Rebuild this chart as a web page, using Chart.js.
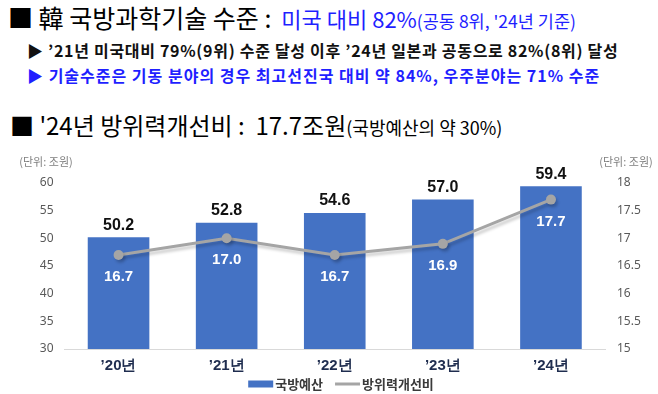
<!DOCTYPE html>
<html>
<head>
<meta charset="utf-8">
<script src="https://cdn.jsdelivr.net/npm/chart.js@4/dist/chart.umd.min.js"></script>
<style>
  body { margin: 0; background: #fff; width: 658px; height: 394px; overflow: hidden; position: relative; font-family: "Noto Sans CJK KR", sans-serif; }
  .ln { position: absolute; left: 0; white-space: nowrap; }
  .blue { color: #1f1fff; }
  #l1 { top: 2px; left: 8px; font-size: 25px; line-height: 30px; }
  #l1 .mid { font-size: 22px; margin-left: 10px; }
  #l1 .sm { font-size: 17.5px; }
  #l2 { top: 40px; left: 27px; font-size: 16px; line-height: 20px; font-weight: bold; letter-spacing: 0.7px; color: #111; }
  #l3 { top: 65px; left: 27px; font-size: 16px; line-height: 20px; font-weight: bold; letter-spacing: 1px; color: #1f1fff; }
  #l4 { top: 110px; left: 10px; font-size: 24px; line-height: 30px; }
  #l4 .sm { font-size: 18px; }
  #wrap { position: absolute; left: 0; top: 145px; width: 658px; height: 249px; }
</style>
</head>
<body>
<div class="ln" id="l1">■ 韓 국방과학기술 수준 :<span class="blue mid">미국 대비 82%</span><span class="blue sm">(공동 8위, '24년 기준)</span></div>
<div class="ln" id="l2">▶ ’21년 미국대비 79%(9위) 수준 달성 이후 ’24년 일본과 공동으로 82%(8위) 달성</div>
<div class="ln" id="l3">▶ 기술수준은 기동 분야의 경우 최고선진국 대비 약 84%, 우주분야는 71% 수준</div>
<div class="ln" id="l4">■ '24년 방위력개선비 : &nbsp;<span>17.7조원</span><span class="sm">(국방예산의 약 30%)</span></div>
<div id="wrap"><canvas id="graph" width="658" height="249"></canvas></div>
<script>
const years = ["’20년", "’21년", "’22년", "’23년", "’24년"];
const budget = [50.2, 52.8, 54.6, 57.0, 59.4];     // 국방예산 (조원)
const improve = [16.7, 17.0, 16.7, 16.9, 17.7];    // 방위력개선비 (조원)
const seriesNames = ["국방예산", "방위력개선비"];
const unitLabel = "(단위: 조원)";

const barColor = "#4472C4";
const lineColor = "#A5A5A5";

// value labels, unit captions and the legend row
const labelPlugin = {
    id: "valueLabels",
    afterDatasetsDraw(chart) {
        const ctx = chart.ctx;
        ctx.save();
        ctx.textAlign = "center";
        ctx.textBaseline = "middle";
        chart.getDatasetMeta(0).data.forEach((bar, i) => {
            ctx.fillStyle = "#111";
            ctx.font = "bold 16px 'Liberation Sans'";
            ctx.fillText(budget[i].toFixed(1), bar.x, bar.y - 12);
        });
        chart.getDatasetMeta(1).data.forEach((pt, i) => {
            ctx.fillStyle = "#fff";
            ctx.font = "bold 15px 'Liberation Sans'";
            ctx.fillText(improve[i].toFixed(1), pt.x, pt.y + 22);
        });
        ctx.fillStyle = "#7f7f7f";
        ctx.font = "11px 'Noto Sans CJK KR'";
        ctx.fillText(unitLabel, 46, 17);
        ctx.fillText(unitLabel, 626, 17);

        // legend
        ctx.font = "bold 13px 'Noto Sans CJK KR'";
        ctx.textAlign = "left";
        const y = chart.chartArea.bottom + 35;
        const w0 = ctx.measureText(seriesNames[0]).width;
        const w1 = ctx.measureText(seriesNames[1]).width;
        const total = 25 + 2 + w0 + 12 + 25 + 2 + w1;
        let x = 341 - total / 2;
        ctx.fillStyle = barColor;
        ctx.fillRect(x, y - 3.5, 25, 7);
        x += 27;
        ctx.fillStyle = "#3a3a3a";
        ctx.fillText(seriesNames[0], x, y);
        x += w0 + 12;
        ctx.strokeStyle = lineColor;
        ctx.lineWidth = 3;
        ctx.beginPath();
        ctx.moveTo(x, y);
        ctx.lineTo(x + 25, y);
        ctx.stroke();
        x += 27;
        ctx.fillText(seriesNames[1], x, y);
        ctx.restore();
    }
};

// soft shadow under the line
const shadowPlugin = {
    id: "lineShadow",
    beforeDatasetDraw(chart, args) {
        if (args.index !== 1) return;
        const ctx = chart.ctx;
        ctx.save();
        ctx.shadowColor = "rgba(0,0,0,0.2)";
        ctx.shadowOffsetX = 2;
        ctx.shadowOffsetY = 3;
        ctx.shadowBlur = 3;
    },
    afterDatasetDraw(chart, args) {
        if (args.index !== 1) return;
        chart.ctx.restore();
    }
};

const graph = document.getElementById('graph').getContext('2d');
let myChart = new Chart(graph, {
    data: {
        labels: years,
        datasets: [{
            type: "bar",
            label: seriesNames[0],
            data: budget,
            backgroundColor: barColor,
            yAxisID: "y",
            barPercentage: 0.57,
            categoryPercentage: 1,
            order: 2,
        }, {
            type: "line",
            label: seriesNames[1],
            data: improve,
            borderColor: lineColor,
            backgroundColor: lineColor,
            borderWidth: 3,
            pointRadius: 5,
            pointBackgroundColor: lineColor,
            pointBorderWidth: 0,
            tension: 0,
            yAxisID: "y1",
            order: 1,
        }]
    },
    options: {
        responsive: false,
        animation: false,
        devicePixelRatio: 1,
        layout: { padding: { top: 38, left: 0, right: 0, bottom: 20 } },
        plugins: {
            tooltip: { enabled: false },
            legend: { display: false }
        },
        scales: {
            x: {
                grid: { display: false, drawTicks: false },
                border: { display: true, color: "#D9D9D9" },
                ticks: {
                    padding: 8,
                    color: "#1F2D4F",
                    font: { size: 15, weight: "bold", family: "'Liberation Sans'" }
                },
                afterFit(scale) { scale.height = 25; }
            },
            y: {
                position: "left",
                min: 30, max: 60,
                ticks: { stepSize: 5, padding: 11, color: "#595959", font: { size: 12, family: "'Noto Sans'" } },
                grid: { display: false, drawTicks: false },
                border: { display: false },
                afterFit(scale) { scale.width = 64.5; }
            },
            y1: {
                position: "right",
                min: 15, max: 18,
                ticks: {
                    stepSize: 0.5, padding: 12, color: "#595959",
                    font: { size: 12, family: "'Noto Sans'" },
                    callback: v => String(v)
                },
                grid: { display: false, drawTicks: false },
                border: { display: false },
                afterFit(scale) { scale.width = 53; }
            }
        }
    },
    plugins: [labelPlugin, shadowPlugin]
});
</script>
</body>
</html>
